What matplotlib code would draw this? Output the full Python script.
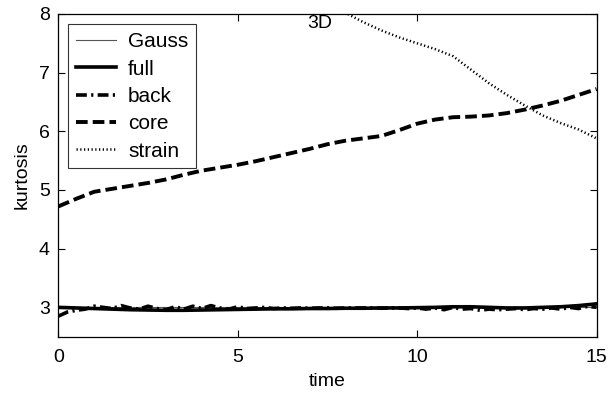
import numpy as np
import matplotlib
matplotlib.use("Agg")
import matplotlib.pyplot as plt

plt.rcParams['font.family'] = ['Liberation Sans', 'DejaVu Sans']

# ---- data ----
gauss_t = [0, 15]
gauss_v = [3.0, 3.0]

full_v = [3.00, 2.99, 2.98, 2.97, 2.96, 2.955, 2.95, 2.95, 2.955, 2.96, 2.965,
          2.97, 2.975, 2.975, 2.98, 2.98, 2.985, 2.985, 2.99, 2.99, 2.995,
          3.00, 3.01, 3.01, 3.00, 2.99, 2.99, 3.00, 3.01, 3.03, 3.06]

back_v = [2.85, 2.92, 2.95, 2.97, 3.02, 3.00, 2.98, 3.03, 2.99, 2.97, 3.02,
          2.98, 2.96, 3.01, 2.97, 3.02, 2.98, 3.03, 2.99, 2.97, 3.01, 2.98,
          2.99, 3.00, 2.98, 2.99, 2.985, 2.99, 2.985, 2.99, 2.99, 2.985, 2.99,
          2.99, 2.99, 2.99, 2.985, 2.99, 2.99, 2.98, 2.99, 2.97, 2.99, 2.96,
          3.00, 2.97, 2.98, 2.95, 2.97, 2.96, 2.97, 2.98, 2.96, 2.98, 2.97,
          2.99, 2.97, 3.00, 2.98, 3.02, 3.00]

core_v = [4.72, 4.85, 4.97, 5.02, 5.07, 5.12, 5.18, 5.26, 5.33, 5.38, 5.43,
          5.49, 5.56, 5.63, 5.70, 5.78, 5.84, 5.88, 5.92, 6.02, 6.13, 6.20,
          6.24, 6.25, 6.27, 6.31, 6.37, 6.44, 6.52, 6.62, 6.72]

strain_t = [7.0, 7.5, 8.0, 8.5, 9.0, 9.5, 10.0, 10.5, 11.0, 11.5, 12.0,
            12.5, 13.0, 13.5, 14.0, 14.5, 15.0]
strain_v = [8.25, 8.12, 8.02, 7.86, 7.72, 7.60, 7.50, 7.40, 7.28, 7.05, 6.82,
            6.62, 6.44, 6.27, 6.14, 6.03, 5.88]

xticks = [0, 5, 10, 15]
yticks = [3, 4, 5, 6, 7, 8]

t_full = np.linspace(0, 15, len(full_v))
t_back = np.linspace(0, 15, len(back_v))
t_core = np.linspace(0, 15, len(core_v))

fig = plt.figure(figsize=(6.1, 3.98), dpi=100)
ax = fig.add_axes([0.0956, 0.154, 0.978 - 0.0956, 0.965 - 0.154])

ax.plot(gauss_t, gauss_v, color='#555555', lw=0.8, label='Gauss')
ax.plot(t_full, full_v, color='black', lw=2.6, label='full')
ax.plot(t_back, back_v, color='black', lw=2.6, linestyle=(0, (3.0, 1.2, 0.6, 1.2)),
        label='back')
ax.plot(t_core, core_v, color='black', lw=2.8, linestyle=(0, (3.0, 1.3)), label='core')
ax.plot(strain_t, strain_v, color='black', lw=1.8, linestyle=(0, (0.5, 1.0)),
        label='strain')

ax.set_xlim(0, 15)
ax.set_ylim(2.5, 8)
ax.set_xticks(xticks)
ax.set_yticks(yticks)
ax.tick_params(direction='in', top=True, right=True, length=5, width=0.8,
               labelsize=14)
ax.tick_params(axis='x', pad=9)
ax.tick_params(axis='y', pad=6)
for s in ax.spines.values():
    s.set_linewidth(0.9)

ax.set_xlabel('time', fontsize=14, labelpad=5)
ax.set_ylabel('kurtosis', fontsize=14, labelpad=6)

ax.text(6.95, 7.83, '3D', fontsize=14, va='center', ha='left')

leg = ax.legend(loc='upper left', bbox_to_anchor=(0.018, 0.968), fontsize=15,
                frameon=True, fancybox=False, edgecolor='black',
                handlelength=1.9, handletextpad=0.6, labelspacing=0.4,
                borderpad=0.38, borderaxespad=0.0)
leg.get_frame().set_linewidth(0.8)

fig.savefig('out.png', dpi=100)
